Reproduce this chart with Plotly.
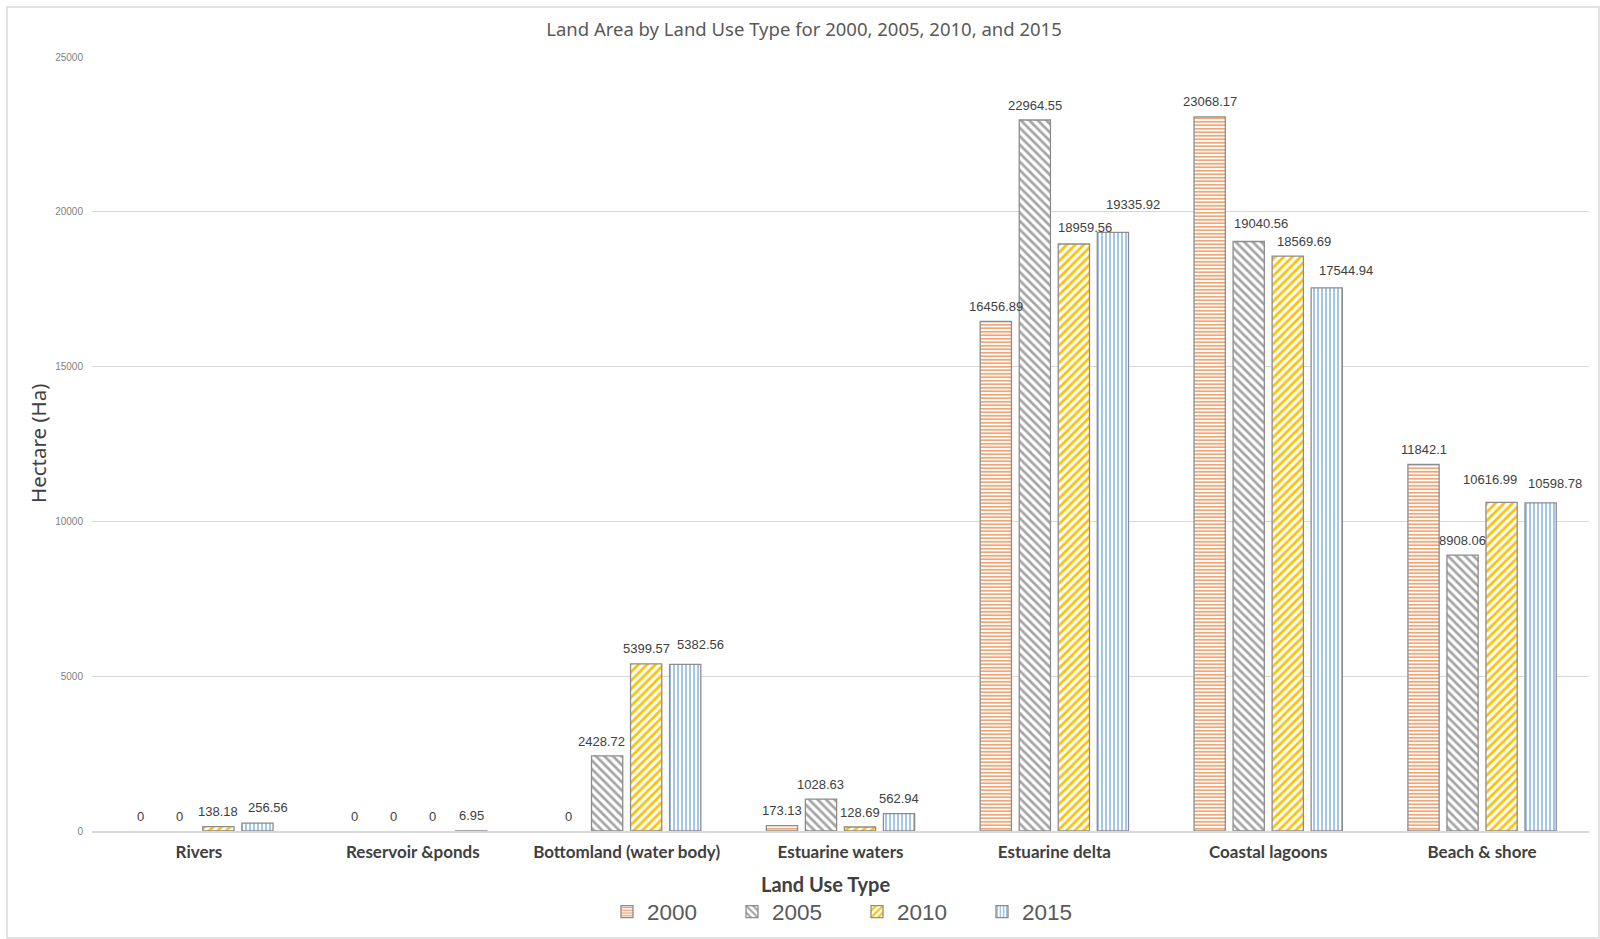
import plotly.graph_objects as go

categories = ["Rivers", "Reservoir &ponds", "Bottomland (water body)", "Estuarine waters",
              "Estuarine delta", "Coastal lagoons", "Beach & shore"]
v2000 = [0, 0, 0, 173.13, 16456.89, 23068.17, 11842.1]
v2005 = [0, 0, 2428.72, 1028.63, 22964.55, 19040.56, 8908.06]
v2010 = [138.18, 0, 5399.57, 128.69, 18959.56, 18569.69, 10616.99]
v2015 = [256.56, 6.95, 5382.56, 562.94, 19335.92, 17544.94, 10598.78]
years = ["2000", "2005", "2010", "2015"]
series = [v2000, v2005, v2010, v2015]

styles = [
    dict(shape="-", fg="#F29B63", size=3.5, sol=0.45),
    dict(shape="\\", fg="#A5A5A5", size=6, sol=0.45),
    dict(shape="/", fg="#FFC000", size=6, sol=0.45),
    dict(shape="|", fg="#8DB8E2", size=4, sol=0.4),
]

# label nudges (px) mimicking the reference's label placement: (category idx, series idx) -> (dx, dy)
label_nudge = {
    (0, 3): (11, 1),
    (2, 1): (-6, -1),
    (2, 3): (15, 5),
    (4, 2): (11, 2),
    (4, 3): (20, 13),
    (5, 1): (12, 3),
    (5, 2): (16, 0),
    (5, 3): (19, 2),
    (6, 2): (-12, 8),
    (6, 3): (14, 4),
}

W, H = 1600, 939
L, R, T, B = 92, 11, 57, 108
pw, ph = W - L - R, H - T - B
BARGAP = 0.27
slot = pw / len(categories) * (1 - BARGAP) / len(series)


def px_x(px):
    return (px - L) / pw


def px_y(py):
    return (T + ph - py) / ph


def fmt(v):
    return f"{v:.2f}".rstrip("0").rstrip(".")


fig = go.Figure()
for name, vals, st in zip(years, series, styles):
    fig.add_trace(go.Bar(
        name=name, x=categories, y=[v if v != 0 else None for v in vals],
        marker=dict(color="white",
                    line=dict(color="#8C8C8C", width=1.3),
                    pattern=dict(shape=st["shape"], fgcolor=st["fg"], bgcolor="white",
                                 size=st["size"], solidity=st["sol"], fillmode="replace")),
    ))

for k, vals in enumerate(series):
    for i, (cat, v) in enumerate(zip(categories, vals)):
        dx, dy = label_nudge.get((i, k), (0, 0))
        fig.add_annotation(
            x=cat, y=v, text=fmt(v), showarrow=False,
            xshift=(k - 1.5) * slot + dx, yshift=15 + dy,
            xanchor="center", yanchor="middle",
            font=dict(family="Liberation Sans, Arial", size=13, color="#404040"),
        )

fig.update_layout(
    width=W, height=H,
    margin=dict(l=L, r=R, t=T, b=B),
    paper_bgcolor="white", plot_bgcolor="white",
    barmode="group", bargap=BARGAP, bargroupgap=0.2,
    title=dict(text="Land Area by Land Use Type for 2000, 2005, 2010, and 2015",
               x=(804) / W, xanchor="center", y=1 - 30 / H, yanchor="middle",
               yref="container", xref="container",
               font=dict(family="Noto Sans, Lato, sans-serif", size=18.5, color="#595959")),
    showlegend=True,
    legend=dict(orientation="h", x=857 / W, xanchor="center", xref="container",
                y=1 - 912 / H, yanchor="middle", yref="container",
                font=dict(family="Liberation Sans, Arial", size=22.5, color="#595959"),
                entrywidth=80, entrywidthmode="pixels", itemwidth=30,
                bgcolor="rgba(0,0,0,0)"),
)
fig.update_xaxes(
    type="category", showgrid=False, showline=True, linecolor="#D9D9D9", linewidth=1.5,
    ticks="", tickfont=dict(family="Lato, sans-serif", size=17, color="#404040", weight="bold"),
    ticklabelstandoff=5,
)
fig.update_yaxes(
    range=[0, 25000], dtick=5000, tickformat="d", showgrid=True, gridcolor="#D9D9D9", gridwidth=1,
    zeroline=False, showline=False, ticks="",
    tickfont=dict(family="Liberation Sans, Arial", size=10, color="#7F7F7F"),
    ticklabelstandoff=8,
)

fig.add_annotation(text="Hectare (Ha)", textangle=-90, xref="paper", yref="paper",
                   x=px_x(38), y=0.5, xanchor="center", yanchor="middle", showarrow=False,
                   font=dict(family="Noto Sans, Lato, sans-serif", size=20.5, color="#404040"))
fig.add_annotation(text="<b>Land Use Type</b>", xref="paper", yref="paper",
                   x=px_x(825), y=px_y(884), xanchor="center", yanchor="middle", showarrow=False,
                   font=dict(family="Lato, sans-serif", size=20, color="#404040"))

fig.add_shape(type="rect", xref="paper", yref="paper",
              x0=px_x(7), x1=px_x(1599), y0=px_y(938), y1=px_y(7),
              line=dict(color="#D9D9D9", width=1.5), fillcolor="rgba(0,0,0,0)", layer="below")

fig.write_html("out.html")
